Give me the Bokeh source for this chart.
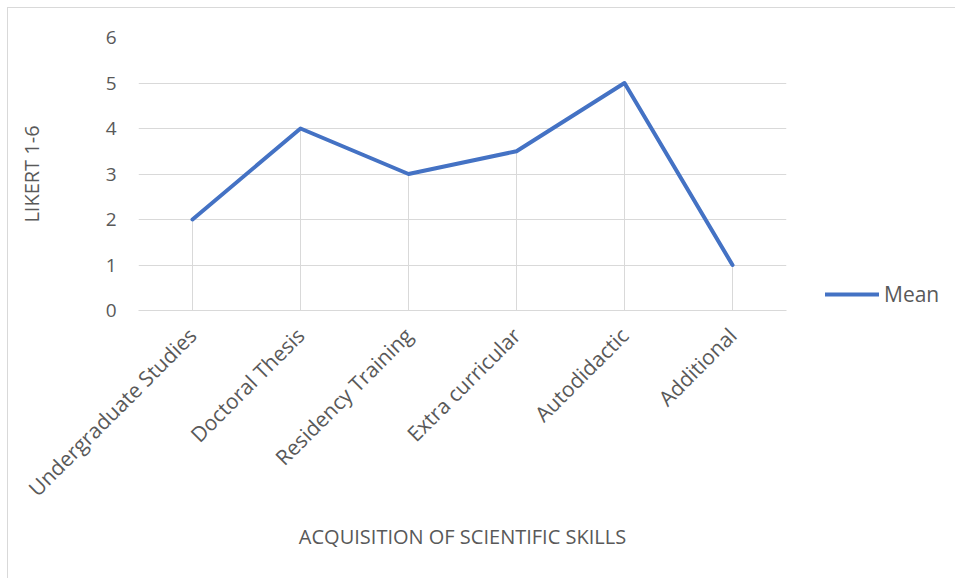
import math
from bokeh.plotting import figure
from bokeh.models import Range1d, FactorRange, FixedTicker, Legend, LegendItem, ColumnDataSource
from bokeh.embed import file_html
from bokeh.resources import INLINE

categories = ["Undergraduate Studies", "Doctoral Thesis", "Residency Training",
              "Extra curricular", "Autodidactic", "Additional"]
mean_values = [2, 4, 3, 3.5, 5, 1]
y_ticks = [0, 1, 2, 3, 4, 5, 6]

FONT = "Open Sans"
TXT = "#595959"
GRID = "#D9D9D9"
BLUE = "#4472C4"

p = figure(frame_width=648, frame_height=273,
           x_range=FactorRange(*categories), y_range=Range1d(0, 6),
           output_backend="svg", toolbar_location=None,
           min_border_left=130, min_border_right=168, min_border_top=29, min_border_bottom=268)
p.styles = {"border": "1px solid #D9D9D9", "margin-left": "7px", "margin-top": "7px"}
p.outline_line_color = None
p.background_fill_color = "white"
p.border_fill_color = "white"

src = ColumnDataSource(dict(x=categories, y=mean_values, y0=[0] * len(mean_values)))

p.segment(x0="x", y0="y0", x1="x", y1="y", source=src, line_color=GRID, line_width=1)
r = p.line(x="x", y="y", source=src, line_color=BLUE, line_width=4, line_join="round", line_cap="round")

p.xgrid.grid_line_color = None
p.ygrid.grid_line_color = GRID
p.ygrid.grid_line_width = 1

p.yaxis.ticker = FixedTicker(ticks=y_ticks)
p.yaxis.axis_line_color = None
p.yaxis.major_tick_line_color = None
p.yaxis.minor_tick_line_color = None
p.yaxis.major_tick_out = 0
p.yaxis.major_label_standoff = 22
p.yaxis.major_label_text_font = FONT
p.yaxis.major_label_text_font_size = "19px"
p.yaxis.major_label_text_color = TXT
p.yaxis.axis_label = "LIKERT 1-6"
p.yaxis.axis_label_text_font = FONT
p.yaxis.axis_label_text_font_size = "20px"
p.yaxis.axis_label_text_font_style = "normal"
p.yaxis.axis_label_text_color = TXT
p.yaxis.axis_label_standoff = 58

p.xaxis.axis_line_color = GRID
p.xaxis.axis_line_width = 1
p.xaxis.major_tick_line_color = None
p.xaxis.minor_tick_line_color = None
p.xaxis.major_tick_out = 0
p.xaxis.major_label_orientation = math.pi / 4
p.xaxis.major_label_standoff = 21
p.xaxis.major_label_text_font = FONT
p.xaxis.major_label_text_font_size = "21px"
p.xaxis.major_label_text_color = TXT
p.xaxis.axis_label = "ACQUISITION OF SCIENTIFIC SKILLS"
p.xaxis.axis_label_text_font = FONT
p.xaxis.axis_label_text_font_size = "20px"
p.xaxis.axis_label_text_font_style = "normal"
p.xaxis.axis_label_text_color = TXT
p.xaxis.axis_label_standoff = 8

legend = Legend(items=[LegendItem(label="Mean", renderers=[r])], location=(39, 2),
                orientation="vertical")
legend.border_line_color = None
legend.background_fill_alpha = 0
legend.glyph_width = 54
legend.glyph_height = 20
legend.label_standoff = 5
legend.padding = 5
legend.margin = 0
legend.label_text_font = FONT
legend.label_text_font_size = "21px"
legend.label_text_color = TXT
p.add_layout(legend, "right")

open("out.html", "w").write(file_html(p, INLINE))
